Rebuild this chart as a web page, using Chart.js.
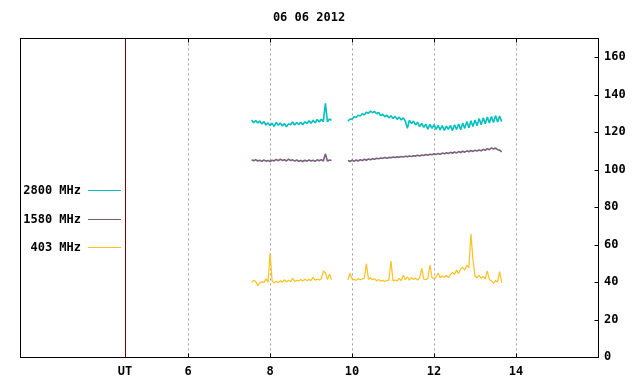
<!DOCTYPE html>
<html lang="en">
<head>
    <meta charset="UTF-8">
    <title>06 06 2012</title>
    <script src="https://cdn.jsdelivr.net/npm/chart.js"></script>
    <style>
        body {
            margin: 0;
            background-color: #ffffff;
        }

        .chart-container {
            width: 640px;
            height: 384px;
        }
    </style>
</head>
<body>

<div class="chart-container">
    <canvas id="fluxChart" width="640" height="384"></canvas>
</div>

<script>
// horas UT de cada tramo (hay un corte entre 9.5 y 9.9)
const timesA = [7.55, 7.6, 7.65, 7.7, 7.75, 7.8, 7.85, 7.9, 7.95, 8, 8.05, 8.1, 8.15, 8.2, 8.25, 8.3, 8.35, 8.4, 8.45, 8.5,
    8.55, 8.6, 8.65, 8.7, 8.75, 8.8, 8.85, 8.9, 8.95, 9, 9.05, 9.1, 9.15, 9.2, 9.25, 9.3, 9.35, 9.4, 9.45, 9.5];
const timesB = [9.9, 9.95, 10, 10.05, 10.1, 10.15, 10.2, 10.25, 10.3, 10.35, 10.4, 10.45, 10.5, 10.55, 10.6, 10.65, 10.7, 10.75, 10.8, 10.85,
    10.9, 10.95, 11, 11.05, 11.1, 11.15, 11.2, 11.25, 11.3, 11.35, 11.4, 11.45, 11.5, 11.55, 11.6, 11.65, 11.7, 11.75, 11.8, 11.85,
    11.9, 11.95, 12, 12.05, 12.1, 12.15, 12.2, 12.25, 12.3, 12.35, 12.4, 12.45, 12.5, 12.55, 12.6, 12.65, 12.7, 12.75, 12.8, 12.85,
    12.9, 12.95, 13, 13.05, 13.1, 13.15, 13.2, 13.25, 13.3, 13.35, 13.4, 13.45, 13.5, 13.55, 13.6, 13.65];

const seriesLabels = ['2800 MHz', '1580 MHz', '403 MHz'];

const mhz2800A = [126.5, 125.0, 126.2, 124.9, 125.9, 124.3, 125.6, 123.8, 124.9, 123.5, 124.8, 123.0, 125.2, 123.6, 124.9, 123.2, 124.6, 122.8, 124.4, 123.9,
    125.4, 123.8, 125.1, 124.0, 125.3, 123.9, 125.5, 124.6, 126.0, 124.7, 126.3, 125.0, 126.7, 125.4, 126.9, 125.6, 135.4, 125.5, 127.0, 126.3];
const mhz2800B = [125.8, 127.0, 126.9, 128.2, 127.8, 129.0, 128.6, 129.8, 129.3, 130.6, 130.1, 131.2, 130.4, 131.0, 129.8, 130.5, 128.9, 129.5, 128.2, 129.0,
    127.6, 128.7, 127.3, 128.4, 126.8, 128.0, 126.5, 127.6, 125.9, 122.0, 126.4, 124.6, 125.9, 123.8, 125.2, 122.9, 124.6, 122.5, 124.3, 121.6,
    124.1, 122.0, 124.0, 121.4, 123.6, 121.2, 123.5, 120.9, 123.2, 121.5, 123.6, 120.8, 123.9, 121.4, 124.3, 121.2, 124.8, 122.0, 125.6, 122.3,
    126.1, 123.0, 126.5, 123.4, 127.2, 123.9, 127.6, 124.5, 128.0, 124.8, 128.3, 125.1, 128.8, 125.4, 128.6, 125.6];

const mhz1580A = [105.2, 104.7, 105.3, 104.6, 105.0, 104.4, 105.1, 104.5, 104.9, 104.3, 105.0, 104.6, 105.4, 104.8, 105.5, 104.9, 105.3, 104.6, 105.6, 104.8,
    105.2, 104.5, 105.1, 104.4, 104.9, 104.3, 105.0, 104.5, 105.1, 104.6, 105.0, 104.4, 105.2, 104.7, 105.3, 104.6, 108.4, 104.5, 105.1, 104.8];
const mhz1580B = [104.9, 104.3, 105.0, 104.4, 105.1, 104.6, 105.3, 104.8, 105.5, 105.0, 105.7, 105.3, 105.8, 105.5, 106.0, 105.8, 106.2, 106.0, 106.4, 106.1,
    106.5, 106.3, 106.7, 106.4, 106.8, 106.6, 107.0, 106.7, 107.1, 106.9, 107.3, 107.0, 107.4, 107.2, 107.6, 107.3, 107.8, 107.5, 108.0, 107.7,
    108.2, 107.9, 108.4, 108.0, 108.6, 108.2, 108.8, 108.4, 109.0, 108.6, 109.2, 108.7, 109.4, 108.9, 109.6, 109.1, 109.8, 109.3, 110.0, 109.5,
    110.2, 109.7, 110.3, 109.9, 110.5, 110.0, 110.8, 110.3, 111.2, 110.6, 111.6, 110.9, 111.5, 110.6, 110.4, 109.4];

const mhz403A = [39.7, 40.9, 40.2, 38.0, 39.5, 40.3, 39.6, 41.8, 39.8, 55.4, 40.6, 39.4, 40.5, 39.6, 40.8, 39.8, 41.2, 40.1, 40.9, 40.2,
    42.0, 40.4, 40.9, 40.6, 41.3, 40.5, 41.5, 40.8, 41.3, 40.9, 42.5, 41.0, 41.6, 41.1, 41.8, 45.9, 45.0, 41.3, 44.3, 41.2];
const mhz403B = [41.1, 44.7, 41.6, 41.3, 41.0, 41.8, 41.2, 41.6, 42.0, 49.7, 41.5, 42.3, 41.2, 41.8, 40.6, 41.3, 40.5, 40.9, 40.3, 40.8,
    41.0, 51.2, 40.6, 41.1, 40.5, 42.0, 40.7, 43.6, 41.2, 42.8, 41.0, 42.4, 41.3, 42.1, 41.0, 42.3, 47.3, 41.5, 41.2, 42.0,
    49.1, 42.5, 41.8, 42.7, 44.7, 42.3, 43.2, 42.6, 43.5, 42.4, 44.0, 45.2, 44.0, 46.4, 44.5, 46.9, 47.9, 46.3, 49.1, 47.6,
    65.7, 51.8, 43.0, 42.3, 43.6, 42.0, 43.0, 41.7, 45.9, 41.3, 40.6, 39.3, 40.8, 40.0, 45.5, 39.7];

// marcas del eje x: la primera es la linea "UT"
const xTickValues = [4.46, 6, 8, 10, 12, 14];
const xTickLabels = ['UT', '6', '8', '10', '12', '14'];
const yTickValues = [0, 20, 40, 60, 80, 100, 120, 140, 160];

const fontMono = "'DejaVu Sans Mono', 'Liberation Mono', monospace";

// une los dos tramos con un hueco en medio
function toPoints(valsA, valsB) {
    const pts = timesA.map((t, i) => ({ x: t, y: valsA[i] }));
    pts.push({ x: 9.7, y: null });
    timesB.forEach((t, i) => pts.push({ x: t, y: valsB[i] }));
    return pts;
}

// marco del grafico, linea UT, marcas interiores y leyenda dentro del area
const framePlugin = {
    id: 'frame',
    beforeDatasetsDraw(chart) {
        const { ctx, chartArea, scales } = chart;
        const xUT = Math.round(scales.x.getPixelForValue(xTickValues[0])) + 0.5;
        ctx.save();
        ctx.strokeStyle = '#800000';
        ctx.lineWidth = 1;
        ctx.beginPath();
        ctx.moveTo(xUT, chartArea.top);
        ctx.lineTo(xUT, chartArea.bottom);
        ctx.stroke();
        ctx.restore();
    },
    afterDraw(chart) {
        const { ctx, chartArea, scales } = chart;
        const left = Math.round(chartArea.left) + 0.5;
        const top = Math.round(chartArea.top) + 0.5;
        const right = Math.round(chartArea.right) + 0.5;
        const bottom = Math.round(chartArea.bottom) + 0.5;
        ctx.save();
        ctx.strokeStyle = '#000000';
        ctx.lineWidth = 1;
        ctx.strokeRect(left, top, right - left, bottom - top);

        // marcas hacia dentro, como en gnuplot
        ctx.beginPath();
        xTickValues.slice(1).forEach(v => {
            const x = Math.round(scales.x.getPixelForValue(v)) + 0.5;
            ctx.moveTo(x, bottom);
            ctx.lineTo(x, bottom - 4);
            ctx.moveTo(x, top);
            ctx.lineTo(x, top + 4);
        });
        yTickValues.forEach(v => {
            const y = Math.round(scales.y.getPixelForValue(v)) + 0.5;
            ctx.moveTo(right, y);
            ctx.lineTo(right - 4, y);
        });
        ctx.stroke();

        ctx.font = 'bold 12px ' + fontMono;
        ctx.textAlign = 'right';
        ctx.textBaseline = 'middle';
        chart.data.datasets.forEach((ds, i) => {
            const y = Math.round(chartArea.top + 152 + i * 28.5) + 0.5;
            ctx.fillStyle = '#000000';
            ctx.fillText(ds.label, chartArea.left + 61, y);
            ctx.strokeStyle = ds.borderColor;
            ctx.beginPath();
            ctx.moveTo(chartArea.left + 68, y);
            ctx.lineTo(chartArea.left + 101, y);
            ctx.stroke();
        });
        ctx.restore();
    }
};

const ctx = document.getElementById('fluxChart').getContext('2d');

new Chart(ctx, {
    type: 'line',
    data: {
        datasets: [
            { label: seriesLabels[0], data: toPoints(mhz2800A, mhz2800B), borderColor: '#00c0c0', borderWidth: 1.6 },
            { label: seriesLabels[1], data: toPoints(mhz1580A, mhz1580B), borderColor: '#7a5f7e', borderWidth: 1.6 },
            { label: seriesLabels[2], data: toPoints(mhz403A, mhz403B), borderColor: '#ffc020', borderWidth: 1.2 }
        ]
    },
    options: {
        responsive: false,
        animation: false,
        layout: { padding: { left: 20, right: 0, top: 0, bottom: 0 } },
        elements: {
            line: { tension: 0, borderJoinStyle: 'bevel' },
            point: { radius: 0 }
        },
        plugins: {
            legend: { display: false },
            tooltip: { enabled: false },
            title: {
                display: true,
                fullSize: false,
                text: '06 06 2012',
                color: '#000000',
                font: { family: fontMono, size: 12, weight: 'bold', lineHeight: 1.2 },
                padding: { top: 11, bottom: 13 }
            }
        },
        scales: {
            x: {
                type: 'linear',
                min: 1.9,
                max: 16,
                afterBuildTicks(scale) {
                    scale.ticks = xTickValues.map(v => ({ value: v }));
                },
                afterFit(scale) {
                    scale.height = 27;
                },
                ticks: {
                    autoSkip: false,
                    maxRotation: 0,
                    padding: 8,
                    color: '#000000',
                    font: { family: fontMono, size: 12, weight: 'bold' },
                    callback: (value, index) => xTickLabels[index]
                },
                grid: {
                    drawTicks: false,
                    color: c => (c.index === 0 ? 'rgba(0,0,0,0)' : '#a0a0a0')
                },
                border: { display: false, dash: [2, 3] }
            },
            y: {
                position: 'right',
                min: 0,
                max: 170,
                afterBuildTicks(scale) {
                    scale.ticks = yTickValues.map(v => ({ value: v }));
                },
                afterFit(scale) {
                    scale.width = 42;
                },
                ticks: {
                    padding: 6,
                    color: '#000000',
                    font: { family: fontMono, size: 12, weight: 'bold' }
                },
                grid: {
                    drawOnChartArea: false,
                    drawTicks: false
                },
                border: { display: false }
            }
        }
    },
    plugins: [framePlugin]
});
</script>

</body>
</html>
